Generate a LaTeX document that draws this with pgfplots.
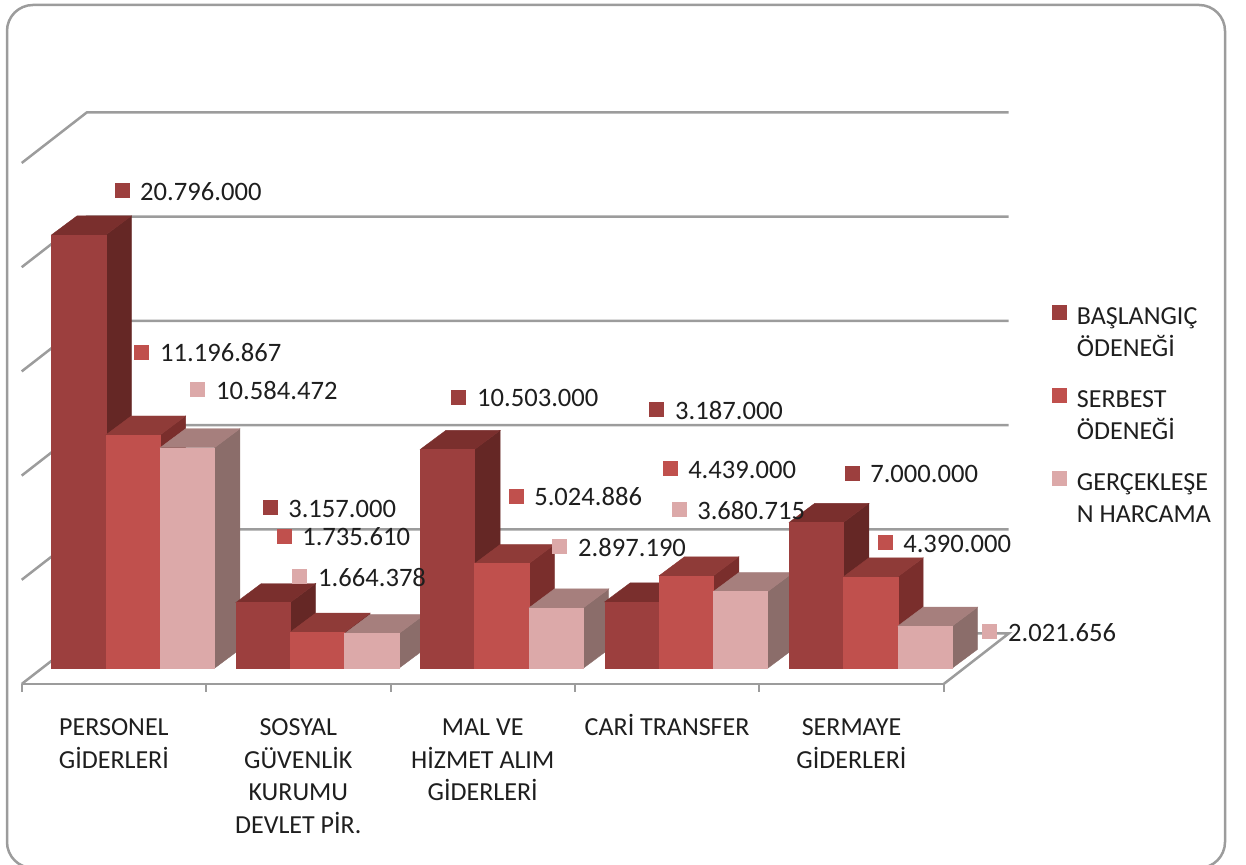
\documentclass[border=0pt]{standalone}
\usepackage{fontspec}
\setmainfont{Carlito}
\usepackage{pgfplots}
\usepackage{pgfplotstable}
\pgfplotsset{compat=1.18}
\definecolor{sAf}{HTML}{9C3F3E}\definecolor{sAt}{HTML}{7A2F2D}\definecolor{sAs}{HTML}{652725}
\definecolor{sBf}{HTML}{C0504D}\definecolor{sBt}{HTML}{8F3B38}\definecolor{sBs}{HTML}{7A2E2C}
\definecolor{sCf}{HTML}{DCA9A9}\definecolor{sCt}{HTML}{A67F7D}\definecolor{sCs}{HTML}{8B6D6A}
\definecolor{gridc}{HTML}{9C9C9C}\definecolor{txt}{HTML}{1E1E1E}
% label positions (x, height on the axis) and printed values
\pgfplotstableread[col sep=space]{
x y lab
0.544 23.66 20.796.000
1.347 8.45 3.157.000
2.371 13.77 10.503.000
3.445 13.15 3.187.000
4.503 10.12 7.000.000
}\labA
\pgfplotstableread[col sep=space]{
x y lab
0.652 15.93 11.196.867
1.423 7.10 1.735.610
2.681 9.02 5.024.886
3.516 10.32 4.439.000
4.682 6.77 4.390.000
}\labB
\pgfplotstableread[col sep=space]{
x y lab
0.956 14.11 10.584.472
1.509 5.18 1.664.378
2.919 6.62 2.897.190
3.565 8.35 3.680.715
5.251 2.50 2.021.656
}\labC
% #1 category, #2 series index, #3 value (millions), #4 series colour prefix
\newcommand\dbar[4]{%
  \pgfmathsetmacro\xa{#1+0.1616+#2*0.2945}%
  \pgfmathsetmacro\xb{\xa+0.2945}%
  \pgfmathsetmacro\xc{\xb+0.1383}%
  \pgfmathsetmacro\xd{\xa+0.1383}%
  \pgfmathsetmacro\ya{0.753}%
  \pgfmathsetmacro\yb{0.753+#3}%
  \pgfmathsetmacro\yc{\ya+0.9117}%
  \pgfmathsetmacro\yd{\yb+0.9117}%
  \edef\temp{%
    \noexpand\addplot[fill=#4s,draw=#4s,line width=0.2pt,forget plot] coordinates {(\xb,\ya)(\xc,\yc)(\xc,\yd)(\xb,\yb)} --cycle;
    \noexpand\addplot[fill=#4t,draw=#4t,line width=0.2pt,forget plot] coordinates {(\xa,\yb)(\xb,\yb)(\xc,\yd)(\xd,\yd)} --cycle;
    \noexpand\addplot[fill=#4f,draw=#4f,line width=0.2pt,forget plot] coordinates {(\xa,\ya)(\xb,\ya)(\xb,\yb)(\xa,\yb)} --cycle;
  }\temp
}
\pgfplotsset{lab/.style={only marks,color=#1,mark=square*,mark size=3.5pt,mark options={draw=#1,fill=#1,line width=0pt},
   point meta=explicit symbolic,nodes near coords={\pgfplotspointmeta},
   nodes near coords align={anchor=west},
   every node near coord/.append style={font=\fontsize{13.3}{16}\selectfont,text=txt,inner sep=0pt,xshift=9.1pt,yshift=-0.5pt}}}
\begin{document}
\begin{tikzpicture}
\useasboundingbox (0,0) rectangle (623pt,432.5pt);
\draw[gridc,line width=1.25pt,rounded corners=13pt] (3.5pt,-1.5pt) rectangle (612.5pt,430pt);
\begin{axis}[
  at={(10.85pt,90.5pt)},anchor=south west,
  scale only axis,width=461pt,height=260.5pt,
  xmin=0,xmax=5,ymin=0,ymax=25,clip=false,
  axis x line*=bottom,axis y line=none,
  x axis line style={gridc,line width=1.25pt,-},
  xtick={0.5,1.5,2.5,3.5,4.5},
  minor xtick={0,1,2,3,4,5},
  major tick length=0pt,minor tick length=4pt,
  tick align=outside,
  every tick/.style={gridc,line width=1pt},
  xticklabels={{\vphantom{İ}PERSONEL\\GİDERLERİ},{\vphantom{İ}SOSYAL\\GÜVENLİK\\KURUMU\\DEVLET PİR.},{\vphantom{İ}MAL VE\\HİZMET ALIM\\GİDERLERİ},{CARİ TRANSFER},{\vphantom{İ}SERMAYE\\GİDERLERİ}},
  xticklabel style={font=\fontsize{13}{16.4}\selectfont,text=txt,align=center,anchor=north,yshift=-11.5pt},
  legend style={draw=none,fill=none,at={(1.118,0.731)},anchor=north west,inner sep=0pt,
     font=\fontsize{13}{16.2}\selectfont,text=txt,row sep=27.5pt,
     /tikz/every even column/.append style={column sep=1pt}},
  legend cell align=left,
  legend image code/.code={\draw[#1] plot coordinates {(0.1cm,0.08cm)};},
]
% wall and floor lines, every 5 million
\addplot[gridc,line width=1.25pt,forget plot] coordinates {(0,0)(0.3525,2.423)(5.3525,2.423)(5,0)};
\addplot[gridc,line width=1.25pt,forget plot] coordinates {(0,5)(0.3525,7.423)(5.3525,7.423)};
\addplot[gridc,line width=1.25pt,forget plot] coordinates {(0,10)(0.3525,12.423)(5.3525,12.423)};
\addplot[gridc,line width=1.25pt,forget plot] coordinates {(0,15)(0.3525,17.423)(5.3525,17.423)};
\addplot[gridc,line width=1.25pt,forget plot] coordinates {(0,20)(0.3525,22.423)(5.3525,22.423)};
\addplot[gridc,line width=1.25pt,forget plot] coordinates {(0,25)(0.3525,27.423)(5.3525,27.423)};
% bars
\dbar{0}{0}{20.796}{sA}\dbar{0}{1}{11.196867}{sB}\dbar{0}{2}{10.584472}{sC}
\dbar{1}{0}{3.157}{sA}\dbar{1}{1}{1.73561}{sB}\dbar{1}{2}{1.664378}{sC}
\dbar{2}{0}{10.503}{sA}\dbar{2}{1}{5.024886}{sB}\dbar{2}{2}{2.89719}{sC}
\dbar{3}{0}{3.187}{sA}\dbar{3}{1}{4.439}{sB}\dbar{3}{2}{3.680715}{sC}
\dbar{4}{0}{7.0}{sA}\dbar{4}{1}{4.39}{sB}\dbar{4}{2}{2.021656}{sC}
% data labels and legend
\addplot[lab=sAf] table[x=x,y=y,meta=lab] {\labA};
\addlegendentry{\parbox[t]{80pt}{\leftskip=3pt BAŞLANGIÇ\\ÖDENEĞİ}}
\addplot[lab=sBf] table[x=x,y=y,meta=lab] {\labB};
\addlegendentry{\parbox[t]{80pt}{\leftskip=3pt SERBEST\\ÖDENEĞİ}}
\addplot[lab=sCf] table[x=x,y=y,meta=lab] {\labC};
\addlegendentry{\parbox[t]{80pt}{\leftskip=3pt GERÇEKLEŞE\\N HARCAMA}}
\end{axis}
\end{tikzpicture}
\end{document}
